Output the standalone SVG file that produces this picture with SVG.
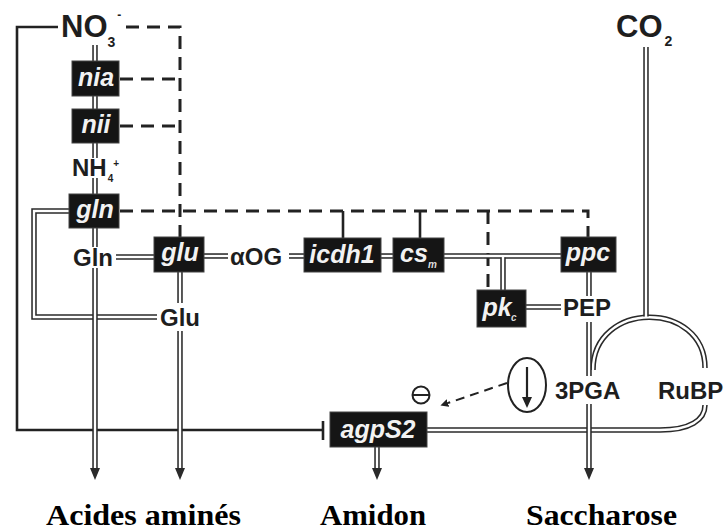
<svg xmlns="http://www.w3.org/2000/svg" width="727" height="532" viewBox="0 0 727 532">
<style>
.bg{fill:#fff}
.o{fill:none;stroke:#2a2a2a;stroke-width:5.5}
.i{fill:none;stroke:#fff;stroke-width:2.4}
.s{fill:none;stroke:#222;stroke-width:2.6}
.d{fill:none;stroke:#222;stroke-width:3;stroke-dasharray:13 8}
.box{fill:#151515;stroke:#444;stroke-width:1}
.bt{font-family:"Liberation Sans",Arial,Helvetica,sans-serif;font-weight:bold;font-style:italic;font-size:25px;fill:#f2f2f2;text-anchor:middle}
.bs{font-family:"Liberation Sans",Arial,Helvetica,sans-serif;font-weight:bold;font-style:italic;font-size:10px;fill:#ddd}
.t{font-family:"Liberation Sans",Arial,Helvetica,sans-serif;font-weight:bold;font-size:24px;fill:#1e1e1e}
.big{font-family:"Liberation Sans",Arial,Helvetica,sans-serif;font-weight:bold;font-size:31px;fill:#1e1e1e}
.lab{font-family:"Liberation Serif","Times New Roman",serif;font-weight:bold;font-size:30px;fill:#000}
</style>
<defs>
<marker id="ah" markerUnits="userSpaceOnUse" viewBox="0 0 12 10" refX="0" refY="5" markerWidth="12" markerHeight="10" orient="auto">
<path d="M0,0 L12,5 L0,10 z" fill="#2a2a2a"/>
</marker>
<marker id="sh" markerUnits="userSpaceOnUse" viewBox="0 0 8 8" refX="0" refY="4" markerWidth="8" markerHeight="8" orient="auto">
<path d="M0,0 L8,4 L0,8 z" fill="#222"/>
</marker>
</defs>
<rect class="bg" x="0" y="0" width="727" height="532"/>

<g id="connectors">
<!-- solid regulation line -->
<path class="s" d="M58,27 H17 V430 H323"/>
<path class="s" stroke-width="3" d="M323,421 V440"/>
<!-- dashed regulation lines -->
<path class="d" d="M126,27 H180 V237"/>
<path class="d" d="M120,79 H180"/>
<path class="d" d="M120,126 H180"/>
<path class="d" d="M120,211 H588 V237"/>
<path class="s" stroke-width="3" d="M343,211 V238"/>
<path class="s" stroke-width="3" d="M420,211 V238"/>
<path class="d" stroke-dasharray="14 7" d="M488,211 V290"/>
<!-- horizontal double lines -->
<path class="o" d="M69,211 H34 V317 H157"/><path class="i" d="M69,211 H34 V317 H157"/>
<path class="o" d="M116,257 H154"/><path class="i" d="M116,257 H154"/>
<path class="o" d="M204,256 H228"/><path class="i" d="M204,256 H228"/>
<path class="o" d="M289,256 H304"/><path class="i" d="M289,256 H304"/>
<path class="o" d="M381,256 H393"/><path class="i" d="M381,256 H393"/>
<path class="o" d="M444,256 H561"/><path class="i" d="M444,256 H561"/>
<path class="o" d="M526,307 H561"/><path class="i" d="M526,307 H561"/>
<path class="o" d="M427,430 H660 C690,430 705,420 705,405"/><path class="i" d="M427,430 H660 C690,430 705,420 705,405"/>
<path class="o" d="M593,370 C593,300 705,300 705,368"/><path class="i" d="M593,370 C593,300 705,300 705,368"/>
<!-- vertical double lines -->
<path class="o" d="M95,45 V61"/><path class="i" d="M95,45 V61"/>
<path class="o" d="M95,96 V109"/><path class="i" d="M95,96 V109"/>
<path class="o" d="M95,143 V158"/><path class="i" d="M95,143 V158"/>
<path class="o" d="M95,178 V194"/><path class="i" d="M95,178 V194"/>
<path class="o" d="M95,228 V247"/><path class="i" d="M95,228 V247"/>
<path class="o" d="M95,268 V468" marker-end="url(#ah)"/><path class="i" d="M95,268 V468"/>
<path class="o" d="M180,272 V303"/><path class="i" d="M180,272 V303"/>
<path class="o" d="M180,331 V468" marker-end="url(#ah)"/><path class="i" d="M180,331 V468"/>
<path class="o" d="M503,257.6 V290"/><path class="i" d="M503,256 V290"/>
<path class="o" d="M589,272 V296"/><path class="i" d="M589,272 V296"/>
<path class="o" d="M589,322 V376"/><path class="i" d="M589,322 V376"/>
<path class="o" d="M589,404 V468" marker-end="url(#ah)"/><path class="i" d="M589,404 V468"/>
<path class="o" d="M377,447 V468" marker-end="url(#ah)"/><path class="i" d="M377,447 V468"/>
<path class="o" d="M646,47 V316.5"/><path class="i" d="M646,47 V318"/>
<!-- inhibition from 3PGA -->
<path fill="none" stroke="#222" stroke-width="2" stroke-dasharray="9 6" d="M507,383 L448,403" marker-end="url(#sh)"/>
</g>

<g id="NO3"><text class="big" x="61" y="37">NO<tspan font-size="14" dy="10">3</tspan><tspan font-size="12" dx="2" dy="-28">-</tspan></text></g>
<g id="CO2"><text class="big" x="616" y="37">CO<tspan font-size="14" dx="2" dy="9">2</tspan></text></g>
<g id="nia"><rect class="box" x="72" y="61" width="47" height="35"/><text class="bt" x="96" y="86">nia</text></g>
<g id="nii"><rect class="box" x="72" y="109" width="47" height="34"/><text class="bt" x="96" y="133">nii</text></g>
<g id="NH4"><text class="t" x="72" y="176" font-size="20">NH<tspan font-size="10" dx="1" dy="6">4</tspan><tspan font-size="10" dy="-15">+</tspan></text></g>
<g id="gln"><rect class="box" x="69" y="194" width="50" height="34"/><text class="bt" x="95" y="218">gln</text></g>
<g id="Gln"><text class="t" x="73" y="266">Gln</text></g>
<g id="glu"><rect class="box" x="154" y="237" width="50" height="35"/><text class="bt" x="180" y="261">glu</text></g>
<g id="Glu"><text class="t" x="160" y="326">Glu</text></g>
<g id="aOG"><text class="t" x="230" y="265" font-weight="normal" font-size="25">αOG</text></g>
<g id="icdh1"><rect class="box" x="304" y="238" width="77" height="34"/><text class="bt" x="342" y="263">icdh1</text></g>
<g id="csm"><rect class="box" x="393" y="238" width="51" height="34"/><text class="bt" x="414" y="262">cs</text><text class="bs" x="428" y="268">m</text></g>
<g id="ppc"><rect class="box" x="561" y="237" width="55" height="35"/><text class="bt" x="588" y="261">ppc</text></g>
<g id="pkc"><rect class="box" x="477" y="290" width="49" height="37"/><text class="bt" x="497" y="316">pk</text><text class="bs" x="511" y="321">c</text></g>
<g id="PEP"><text class="t" x="563" y="316">PEP</text></g>
<g id="PGA3"><text class="t" x="555" y="399" font-size="25">3PGA</text></g>
<g id="RuBP"><text class="t" x="658" y="399" font-size="25">RuBP</text></g>
<g id="light"><ellipse cx="527" cy="385" rx="19" ry="27" fill="none" stroke="#222" stroke-width="2"/><path d="M527,367 V398" stroke="#222" stroke-width="2.2"/><path d="M522,397 L532,397 L527,408 z" fill="#222"/></g>
<g id="minus"><circle cx="421" cy="395" r="8.5" fill="none" stroke="#222" stroke-width="2"/><path d="M413,395 H429" stroke="#222" stroke-width="2"/></g>
<g id="agpS2"><rect class="box" x="330" y="412" width="97" height="35"/><text class="bt" x="378" y="438">agpS2</text></g>
<g id="labels">
<text class="lab" x="46" y="525" textLength="195" lengthAdjust="spacingAndGlyphs">Acides aminés</text>
<text class="lab" x="320" y="525" textLength="106" lengthAdjust="spacingAndGlyphs">Amidon</text>
<text class="lab" x="526" y="525" textLength="151" lengthAdjust="spacingAndGlyphs">Saccharose</text>
</g>
</svg>
